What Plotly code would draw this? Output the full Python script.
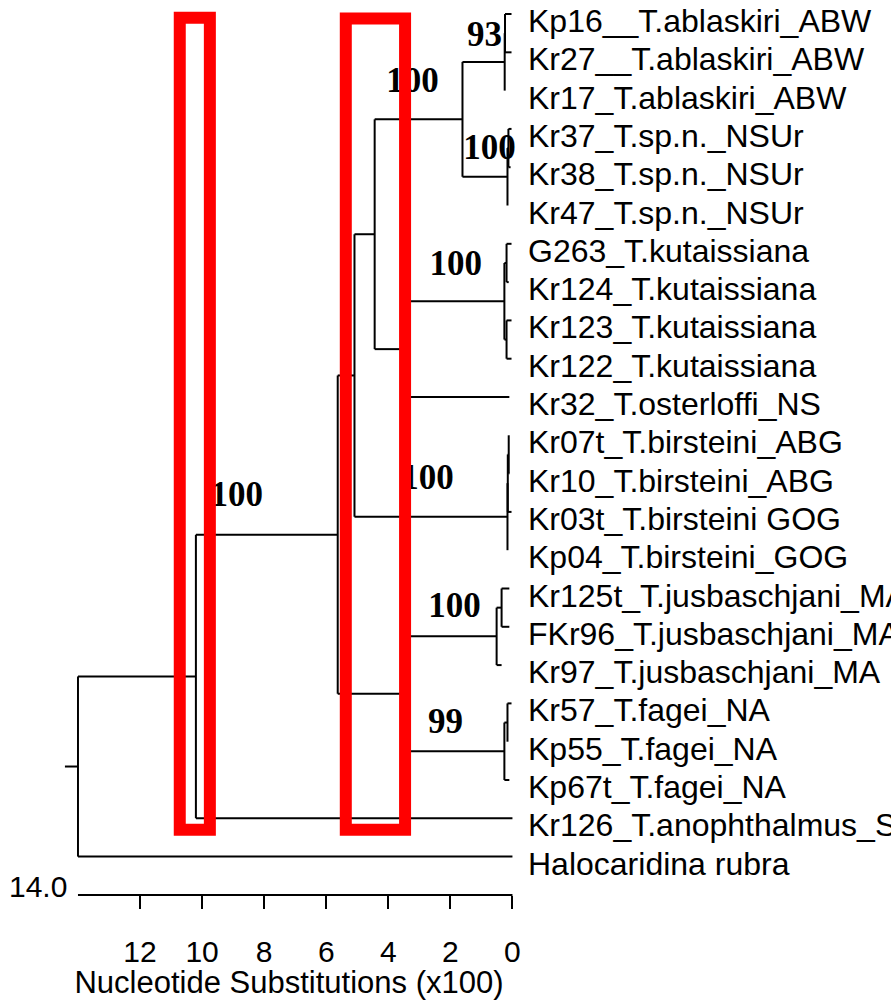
import plotly.graph_objects as go

# ---------------- data ----------------
leaf_names = [
    "Kp16__T.ablaskiri_ABW", "Kr27__T.ablaskiri_ABW", "Kr17_T.ablaskiri_ABW",
    "Kr37_T.sp.n._NSUr", "Kr38_T.sp.n._NSUr", "Kr47_T.sp.n._NSUr",
    "G263_T.kutaissiana", "Kr124_T.kutaissiana", "Kr123_T.kutaissiana", "Kr122_T.kutaissiana",
    "Kr32_T.osterloffi_NS",
    "Kr07t_T.birsteini_ABG", "Kr10_T.birsteini_ABG", "Kr03t_T.birsteini GOG", "Kp04_T.birsteini_GOG",
    "Kr125t_T.jusbaschjani_MA", "FKr96_T.jusbaschjani_MA", "Kr97_T.jusbaschjani_MA",
    "Kr57_T.fagei_NA", "Kp55_T.fagei_NA", "Kp67t_T.fagei_NA",
    "Kr126_T.anophthalmus_S", "Halocaridina rubra",
]
# tip positions (substitutions x100)
leaf_tip = [0.03, 0.03, 0.25, 0.03, 0.06, 0.16, 0.03, 0.12, 0.03, 0.03, 0.10,
            0.12, 0.10, 0.03, 0.16, 0.10, 0.10, 0.35, 0.03, 0.16, 0.10, 0.0, 0.0]

# internal nodes: depth value and children ("L#" leaf, "N#" node)
node_x = [0.24, 0.25, 0.13, 0.16, 1.61, 0.19, 0.19, 0.26, 3.54, 4.44, 0.12,
          0.15, 0.16, 5.09, 0.35, 0.51, 0.16, 0.26, 3.54, 5.63, 10.20, 14.0]
node_kids = [
    ["L0", "L1"], ["N0", "L2"], ["L3", "L4"], ["N2", "L5"], ["N1", "N3"],
    ["L6", "L7"], ["L8", "L9"], ["N5", "N6"], ["N7", "L10"], ["N4", "N8"],
    ["L11", "L12"], ["N10", "L13"], ["N11", "L14"], ["N9", "N12"],
    ["L15", "L16"], ["N14", "L17"], ["L18", "L19"], ["N16", "L20"],
    ["N15", "N17"], ["N13", "N18"], ["N19", "L21"], ["N20", "L22"],
]
root_stub = 14.42

boot_text = ["93", "100", "100", "100", "100", "100", "99", "100"]
boot_x = [0.90, 3.22, 0.74, 1.83, 2.74, 1.87, 2.16, 8.88]
boot_y = [0.60, 1.80, 3.55, 6.58, 12.17, 15.52, 18.54, 12.61]

scale_ticks = [12, 10, 8, 6, 4, 2, 0]
scale_max = 14.0
axis_title = "Nucleotide Substitutions (x100)"

box_x0 = [10.72, 5.37]
box_x1 = [9.75, 3.46]
box_y0 = [0.10, 0.12]
box_y1 = [21.3, 21.3]

# ---------------- build tree segments ----------------
node_y = [None] * len(node_x)


def pos(ref):
    k = int(ref[1:])
    if ref[0] == "L":
        return leaf_tip[k], float(k)
    return node_x[k], node_y[k]


for i, kids in enumerate(node_kids):
    node_y[i] = sum(pos(c)[1] for c in kids) / len(kids)

xs, ys = [], []
for i, kids in enumerate(node_kids):
    cy = [pos(c)[1] for c in kids]
    xs += [node_x[i], node_x[i], None]
    ys += [min(cy), max(cy), None]
    for c in kids:
        cx, cyy = pos(c)
        xs += [node_x[i], cx, None]
        ys += [cyy, cyy, None]
root = len(node_x) - 1
xs += [root_stub, node_x[root], None]
ys += [node_y[root], node_y[root], None]

fig = go.Figure()
fig.add_trace(go.Scatter(x=xs, y=ys, mode="lines",
                         line=dict(color="black", width=2),
                         hoverinfo="skip", showlegend=False))
fig.add_trace(go.Scatter(x=boot_x, y=boot_y, mode="text", text=boot_text,
                         textposition="middle center",
                         textfont=dict(family="Liberation Serif", size=35,
                                       color="black", weight="bold"),
                         cliponaxis=False, hoverinfo="skip", showlegend=False))

for k, name in enumerate(leaf_names):
    fig.add_annotation(x=0, y=k, xref="x", yref="y", text=name, showarrow=False,
                       xanchor="left", yanchor="middle", xshift=14, yshift=-7,
                       font=dict(family="Liberation Sans", size=32, color="black"))

# scale bar line
fig.add_shape(type="line", xref="x", yref="paper", x0=scale_max, x1=0, y0=0, y1=0,
              line=dict(color="black", width=2))
fig.add_annotation(x=scale_max, y=0, xref="x", yref="paper", text=f"{scale_max:.1f}",
                   showarrow=False, xanchor="right", yanchor="middle",
                   xshift=-9, yshift=9,
                   font=dict(family="Liberation Sans", size=30, color="black"))

for a0, a1, b0, b1 in zip(box_x0, box_x1, box_y0, box_y1):
    fig.add_shape(type="rect", xref="x", yref="y", x0=a0, x1=a1, y0=b0, y1=b1,
                  line=dict(color="#ff0000", width=12), layer="above")

fig.update_layout(
    width=891, height=1000,
    margin=dict(l=64, r=377, t=0, b=105, autoexpand=False),
    plot_bgcolor="white", paper_bgcolor="white",
    xaxis=dict(range=[14.45, -0.05], showgrid=False, zeroline=False, showline=False,
               automargin=False,
               tickvals=scale_ticks, ticktext=[str(t) for t in scale_ticks],
               ticks="outside", ticklen=13, tickwidth=2, tickcolor="black",
               ticklabelstandoff=17,
               tickfont=dict(family="Liberation Sans", size=30, color="black"),
               title=dict(text=axis_title, standoff=21,
                          font=dict(family="Liberation Sans", size=31, color="black"))),
    yaxis=dict(range=[23.003, -0.366], visible=False, automargin=False),
)

fig.write_html("out.html", config={"displayModeBar": False},
               post_script="document.body.style.margin='0';")
